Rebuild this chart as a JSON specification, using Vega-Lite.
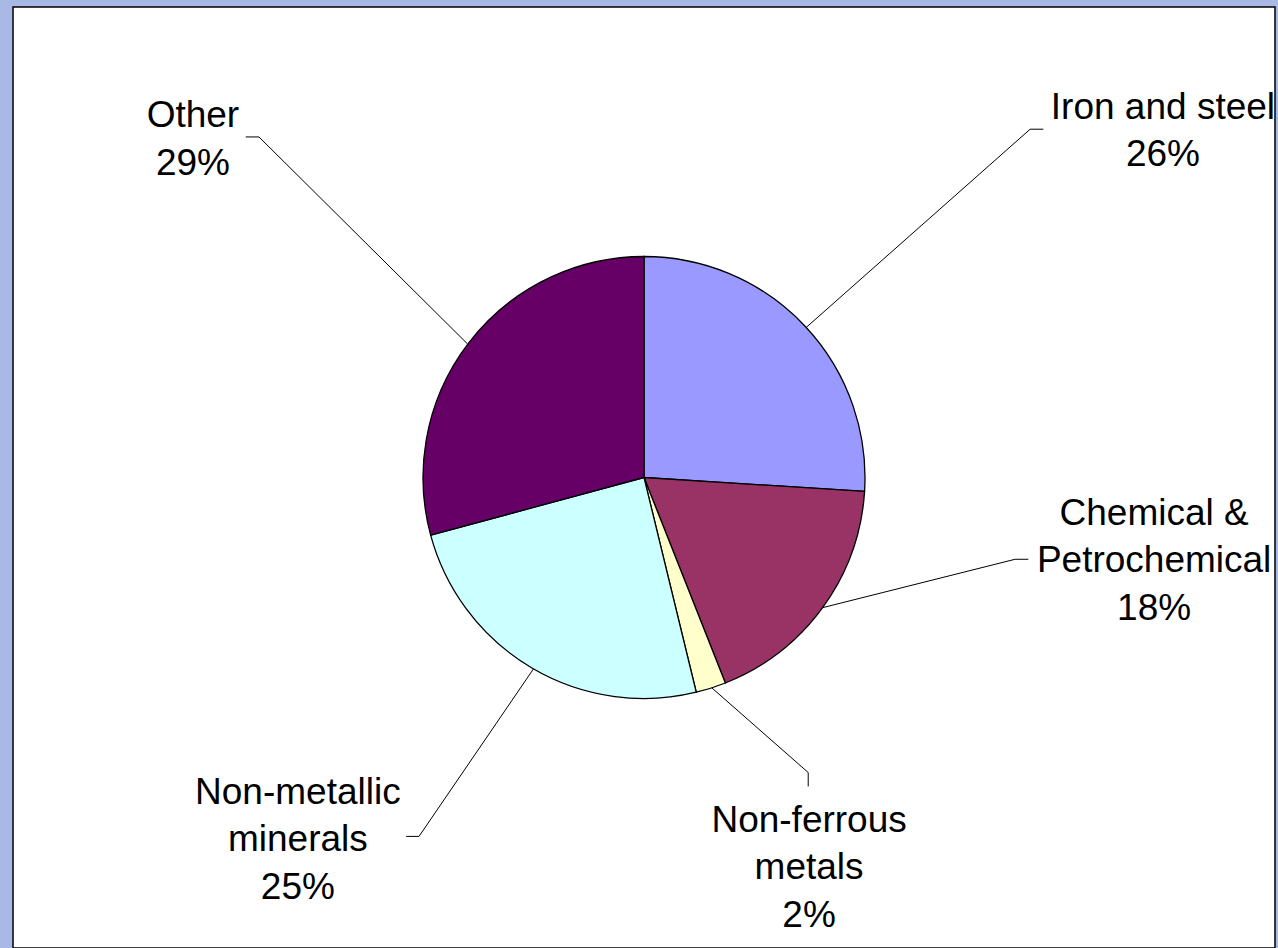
{
  "$schema": "https://vega.github.io/schema/vega-lite/v6.json",
  "description": "Industrial energy use by sector, pie with callout labels.",
  "width": 1262,
  "height": 941,
  "autosize": "none",
  "padding": {"left": 13, "top": 7, "right": 3, "bottom": 0},
  "background": "#a9b9e6",
  "config": {
    "view": {"stroke": "black", "strokeWidth": 1.5, "fill": "white"},
    "font": "Liberation Sans"
  },
  "datasets": {
    "shares": [
      {"sector": "Iron and steel", "rank": 1, "share": 26.0, "label": ["Iron and steel", "26%"], "lx": 234.8, "ly": 162.4},
      {"sector": "Chemical & Petrochemical", "rank": 2, "share": 18.0, "label": ["Chemical &", "Petrochemical", "18%"], "lx": 230.8, "ly": -21.4},
      {"sector": "Non-ferrous metals", "rank": 3, "share": 2.2, "label": ["Non-ferrous", "metals", "2%"], "lx": 74.7, "ly": -160.2},
      {"sector": "Non-metallic minerals", "rank": 4, "share": 24.6, "label": ["Non-metallic", "minerals", "25%"], "lx": -156.6, "ly": -147.7},
      {"sector": "Other", "rank": 5, "share": 29.2, "label": ["Other", "29%"], "lx": -204.1, "ly": 158.4}
    ],
    "leaders": [
      {"sector": "Iron and steel", "step": 1, "x": 73.4, "y": 67.9},
      {"sector": "Iron and steel", "step": 2, "x": 174.7, "y": 157.6},
      {"sector": "Iron and steel", "step": 3, "x": 180.7, "y": 157.6},
      {"sector": "Chemical & Petrochemical", "step": 1, "x": 80.8, "y": -58.9},
      {"sector": "Chemical & Petrochemical", "step": 2, "x": 167.9, "y": -37.0},
      {"sector": "Chemical & Petrochemical", "step": 3, "x": 173.9, "y": -37.0},
      {"sector": "Non-ferrous metals", "step": 1, "x": 30.7, "y": -95.2},
      {"sector": "Non-ferrous metals", "step": 2, "x": 74.3, "y": -133.5},
      {"sector": "Non-ferrous metals", "step": 3, "x": 74.3, "y": -139.8},
      {"sector": "Non-metallic minerals", "step": 1, "x": -50.0, "y": -86.6},
      {"sector": "Non-metallic minerals", "step": 2, "x": -101.8, "y": -162.4},
      {"sector": "Non-metallic minerals", "step": 3, "x": -107.6, "y": -162.4},
      {"sector": "Other", "step": 1, "x": -79.8, "y": 60.4},
      {"sector": "Other", "step": 2, "x": -174.2, "y": 154.1},
      {"sector": "Other", "step": 3, "x": -180.2, "y": 154.1}
    ]
  },
  "layer": [
    {
      "data": {"name": "shares"},
      "mark": {"type": "arc", "outerRadius": 221, "stroke": "black", "strokeWidth": 1.3},
      "encoding": {
        "theta": {"field": "share", "type": "quantitative", "stack": true},
        "order": {"field": "rank", "type": "quantitative"},
        "color": {
          "field": "sector",
          "type": "nominal",
          "scale": {
            "domain": ["Iron and steel", "Chemical & Petrochemical", "Non-ferrous metals", "Non-metallic minerals", "Other"],
            "range": ["#9999ff", "#993366", "#ffffcc", "#ccffff", "#660066"]
          },
          "legend": null
        }
      }
    },
    {
      "data": {"name": "leaders"},
      "mark": {"type": "line", "color": "black", "strokeWidth": 1},
      "encoding": {
        "x": {"field": "x", "type": "quantitative", "scale": {"domain": [-285.5, 285.5], "nice": false, "zero": false}, "axis": null},
        "y": {"field": "y", "type": "quantitative", "scale": {"domain": [-212.9, 212.9], "nice": false, "zero": false}, "axis": null},
        "detail": {"field": "sector", "type": "nominal"},
        "order": {"field": "step", "type": "quantitative"}
      }
    },
    {
      "data": {"name": "shares"},
      "mark": {"type": "text", "fontSize": 37, "lineHeight": 47.5, "align": "center", "baseline": "alphabetic", "color": "black"},
      "encoding": {
        "x": {"field": "lx", "type": "quantitative", "scale": {"domain": [-285.5, 285.5], "nice": false, "zero": false}, "axis": null},
        "y": {"field": "ly", "type": "quantitative", "scale": {"domain": [-212.9, 212.9], "nice": false, "zero": false}, "axis": null},
        "text": {"field": "label"}
      }
    }
  ]
}
